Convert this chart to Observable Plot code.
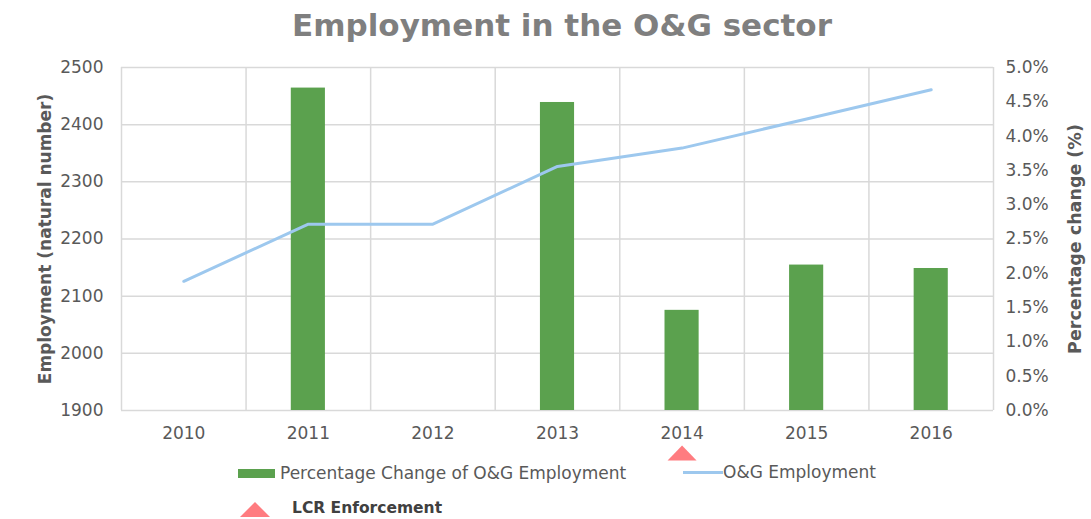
<!DOCTYPE html>
<html>
<head>
<meta charset="utf-8">
<script src="https://cdn.jsdelivr.net/npm/d3@7"></script>
<script src="https://cdn.jsdelivr.net/npm/@observablehq/plot@0.6"></script>
<style>
  html, body { margin: 0; padding: 0; background: #fff; }
  #wrap { position: relative; width: 1091px; height: 519px; overflow: hidden; font-family: "DejaVu Sans", sans-serif; }
  #title { position: absolute; left: 33px; width: 1058px; top: 10px; line-height: 31px; text-align: center;
           font-size: 31px; font-weight: bold; color: #7f7f7f; white-space: nowrap; }
  #chart { position: absolute; left: 0; top: 52px; }
  .lg { position: absolute; display: block; white-space: nowrap; }
  .lgtext { position: absolute; height: 24px; line-height: 24px; font-size: 17px; color: #595959; white-space: nowrap; }
</style>
</head>
<body>
<div id="wrap">
  <div id="title"></div>
  <div id="chart"></div>
  <div id="legend"></div>
</div>
<script>
// ---- data ----
const title = "Employment in the O&G sector";
const years = [2010, 2011, 2012, 2013, 2014, 2015, 2016];
const employment = [2126, 2226, 2226, 2327, 2359, 2410, 2461];
const pctChange = [null, 4.70, null, 4.49, 1.46, 2.12, 2.07];
const leftTicks = [1900, 2000, 2100, 2200, 2300, 2400, 2500];
const rightTicks = [0, 0.5, 1, 1.5, 2, 2.5, 3, 3.5, 4, 4.5, 5];
const lcrYears = [2014];
const leftLabel = "Employment (natural number)";
const rightLabel = "Percentage change (%)";
const barLabel = "Percentage Change of O&G Employment";
const lineLabel = "O&G Employment";
const lcrLabel = "LCR Enforcement";

// ---- colours ----
const green = "#5ba14e", blue = "#9dc8ee", red = "#ff7c80", grid = "#d9d9d9";

// right axis (0–5 %) mapped onto the left axis domain (1900–2500)
const yMin = 1900, yMax = 2500, pMax = 5;
const pctToY = p => yMin + p * (yMax - yMin) / pMax;
const yToPct = y => (y - yMin) * pMax / (yMax - yMin);

const lineData = years.map((year, i) => ({year, emp: employment[i]}));
const barData = years.map((year, i) => ({year, pct: pctChange[i]})).filter(d => d.pct != null);
const boundaries = d3.range(years[0] - 0.5, years[years.length - 1] + 1, 1);
const halfBar = 0.137;

// flat triangle symbol
const flatTriangle = {
  draw(context, size) {
    const r = Math.sqrt(size / Math.PI);
    const w = r * 1.45, h = r * 0.75;
    context.moveTo(0, -h);
    context.lineTo(w, h);
    context.lineTo(-w, h);
    context.closePath();
  }
};

document.getElementById("title").textContent = title;

const chart = Plot.plot({
  width: 1091,
  height: 413,
  marginLeft: 121,
  marginRight: 98,
  marginTop: 15,
  marginBottom: 55,
  style: {fontFamily: "DejaVu Sans, sans-serif", fontSize: "17px", color: "#595959", background: "white", overflow: "visible"},
  x: {domain: [years[0] - 0.5, years[years.length - 1] + 0.5], axis: null},
  y: {domain: [yMin, yMax], axis: null},
  marks: [
    Plot.ruleY(leftTicks, {stroke: grid, strokeWidth: 1.5}),
    Plot.ruleX(boundaries, {stroke: grid, strokeWidth: 1.5}),
    Plot.rectY(barData, {
      x1: d => d.year - halfBar, x2: d => d.year + halfBar,
      y1: () => yMin, y2: d => pctToY(d.pct),
      fill: green
    }),
    Plot.line(lineData, {x: "year", y: "emp", stroke: blue, strokeWidth: 3, strokeLinejoin: "round", strokeLinecap: "round"}),
    Plot.axisY(leftTicks, {anchor: "left", tickSize: 0, tickPadding: 18, label: null, tickFormat: d => String(d), fontSize: 17}),
    Plot.axisY(rightTicks.map(pctToY), {anchor: "right", tickSize: 0, tickPadding: 12, label: null,
      tickFormat: d => yToPct(d).toFixed(1) + "%", fontSize: 17}),
    Plot.axisX(years, {anchor: "bottom", tickSize: 0, tickPadding: 16, label: null, tickFormat: d => String(d), fontSize: 17}),
    Plot.dot(lcrYears, {x: d => d, frameAnchor: "bottom", dy: 42.5, symbol: flatTriangle, r: 10, fill: red, stroke: "none"}),
    Plot.text([leftLabel], {frameAnchor: "left", textAnchor: "middle", dx: -76, rotate: -90, fontSize: 17, fontWeight: "bold", fill: "#595959"}),
    Plot.text([rightLabel], {frameAnchor: "right", textAnchor: "middle", dx: 82, rotate: -90, fontSize: 17.5, fontWeight: "bold", fill: "#595959"})
  ]
});
document.getElementById("chart").appendChild(chart);

// ---- legend ----
const legend = document.getElementById("legend");
function add(html) { legend.insertAdjacentHTML("beforeend", html); }
add(`<div class="lg" style="left:238px;top:469px;width:37px;height:9px;background:${green}"></div>`);
add(`<div class="lgtext" style="left:280px;top:461px">${barLabel}</div>`);
add(`<div class="lg" style="left:683px;top:471px;width:40px;height:3px;background:${blue}"></div>`);
add(`<div class="lgtext" style="left:723px;top:460px">${lineLabel}</div>`);
add(`<svg class="lg" style="left:240px;top:502px" width="30" height="15"><path d="M15,0L30,15L0,15Z" fill="${red}"/></svg>`);
add(`<div class="lgtext" style="left:292px;top:496px;font-size:15.5px;font-weight:bold;color:#404040">${lcrLabel}</div>`);
</script>
</body>
</html>
